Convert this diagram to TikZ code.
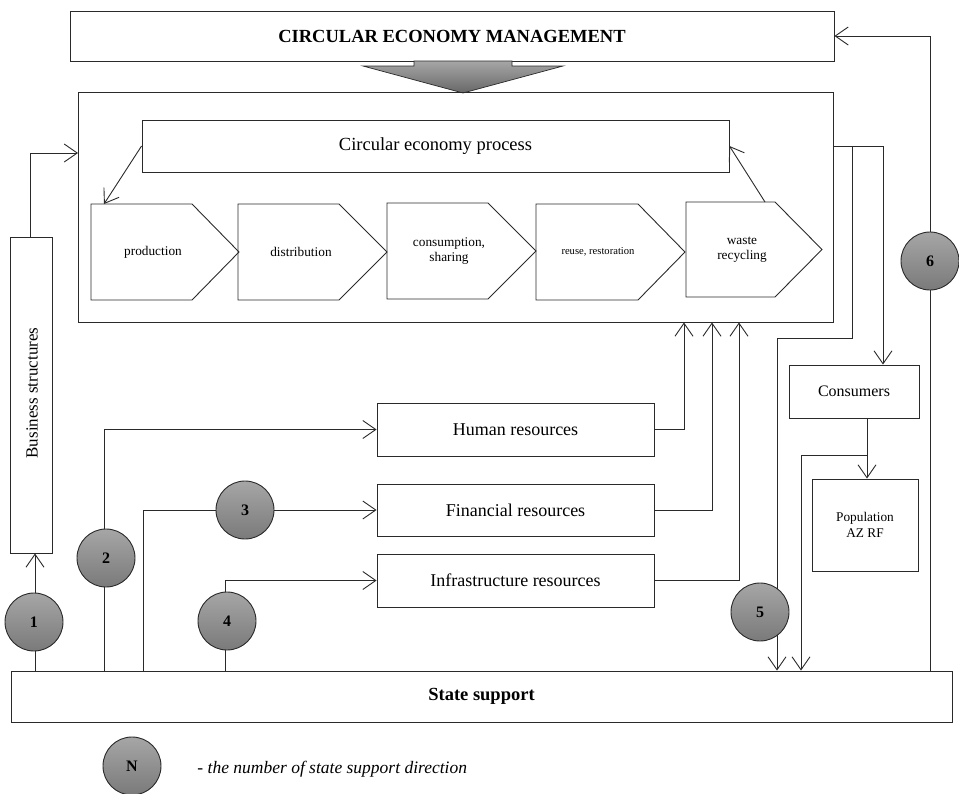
\documentclass[tikz,border=0pt]{standalone}
\usepackage{fontspec}
\setmainfont{Liberation Serif}
\usetikzlibrary{arrows.meta}
\definecolor{ctop}{HTML}{A6A6A6}
\definecolor{cbot}{HTML}{7A7A7A}
\definecolor{ln}{HTML}{2A2A2A}
\begin{document}
\begin{tikzpicture}[x=1pt,y=-1pt,line width=0.9pt,draw=ln,
  box/.style={draw=ln,line width=0.9pt,inner sep=0pt,align=center},
  pent/.style={draw=ln,line width=0.9pt},
  barb/.style={-{Straight Barb[length=13pt,width=18pt,line width=0.9pt]}},
  plain/.style={draw=ln,line width=0.9pt},
  num/.style={circle,draw=ln,line width=0.9pt,top color=ctop,bottom color=cbot,
    minimum size=58pt,inner sep=0pt,font=\fontsize{16}{16}\selectfont\bfseries},
  txt/.style={inner sep=0pt,align=center}]
\useasboundingbox (0,0) rectangle (959,793);
% top box
\node[box,minimum width=764pt,minimum height=50pt,font=\fontsize{18.5}{20}\selectfont\bfseries] (mgmt) at (452,36) {CIRCULAR ECONOMY MANAGEMENT};
% gray arrow
\draw[line width=0.7pt,draw=ln,top color=ctop,bottom color=cbot!85!black] (414,61) -- (414,66) -- (363,66) -- (463,93) -- (563,66) -- (512,66) -- (512,61) -- cycle;
% big box
\node[box,minimum width=755pt,minimum height=230pt] (bigbox) at (455.5,207) {};
% process box
\node[box,minimum width=587pt,minimum height=52pt,font=\fontsize{18.5}{20}\selectfont] (proc) at (435.5,146) {Circular economy process};
% pentagons
\draw[pent] (91,204) -- (192,204) -- (239,252) -- (192,300) -- (91,300) -- cycle;
\draw[pent] (238,204) -- (339,204) -- (387,252) -- (339,300) -- (238,300) -- cycle;
\draw[pent] (387,203) -- (488,203) -- (536,251) -- (488,299) -- (387,299) -- cycle;
\draw[pent] (536,204) -- (638,204) -- (685,252) -- (638,300) -- (536,300) -- cycle;
\draw[pent] (686,202) -- (775,202) -- (822,249.5) -- (775,297) -- (686,297) -- cycle;
\node[txt,font=\fontsize{13.3}{15}\selectfont] (tprod) at (153,252) {production};
\node[txt,font=\fontsize{13.3}{15}\selectfont] (tdist) at (301,252) {distribution};
\node[txt,font=\fontsize{13.3}{15}\selectfont] (tcons) at (449,251) {consumption,\\sharing};
\node[txt,font=\fontsize{10.6}{12}\selectfont] (treuse) at (598,252) {reuse, restoration};
\node[txt,font=\fontsize{13.3}{15}\selectfont] (twaste) at (742,250) {waste\\recycling};
\coordinate (prodtop) at (104,204);
\coordinate (wastetop) at (765,202);
\draw[barb] (proc.west) -- (prodtop);
\draw[barb] (wastetop) -- (proc.east);
% business structures
\node[box,minimum width=42pt,minimum height=316pt] (bus) at (31,395) {};
\node[txt,rotate=90,font=\fontsize{17}{19}\selectfont] (tbus) at (32,393) {Business structures};
% resource boxes
\node[box,minimum width=277pt,minimum height=53pt,font=\fontsize{18}{20}\selectfont] (human) at (515.5,429.5) {Human resources};
\node[box,minimum width=277pt,minimum height=52pt,font=\fontsize{18}{20}\selectfont] (fin) at (515.5,510) {Financial resources};
\node[box,minimum width=277pt,minimum height=53pt,font=\fontsize{18}{20}\selectfont] (infra) at (515.5,580.5) {Infrastructure resources};
% consumers & population
\node[box,minimum width=130pt,minimum height=53pt,font=\fontsize{16}{18}\selectfont] (cons) at (854,391.5) {Consumers};
\node[box,minimum width=106pt,minimum height=92pt,font=\fontsize{13.3}{15.5}\selectfont] (pop) at (865,525) {Population\\AZ RF};
% state support
\node[box,minimum width=941pt,minimum height=51pt,font=\fontsize{18.5}{20}\selectfont\bfseries] (state) at (481.5,696.5) {State support};
% helper x coordinates
\coordinate (x1) at (35,0);
\coordinate (x2) at (104,0);
\coordinate (x3) at (143,0);
\coordinate (x4) at (225,0);
\coordinate (xh) at (684,0);
\coordinate (xf) at (712,0);
\coordinate (xi) at (739,0);
\coordinate (xa) at (852,0);
\coordinate (xc) at (883,0);
\coordinate (x5) at (777,0);
\coordinate (xp) at (867,0);
\coordinate (x5b) at (801,0);
\coordinate (x6) at (930,0);
\coordinate (bend5) at (777,338);
\coordinate (bend5b) at (867,455);
\coordinate (busarr) at (78,153);
% connectors
\draw[barb] (bus.north -| x1) ++(-5,0) |- (busarr);
\draw[barb] (x1 |- state.north) -- (x1 |- bus.south);
\draw[barb] (x2 |- state.north) |- (human.west);
\draw[barb] (x3 |- state.north) |- (fin.west);
\draw[barb] (x4 |- state.north) |- (infra.west);
\draw[barb] (human.east) -| (xh |- bigbox.south);
\draw[barb] (fin.east) -| (xf |- bigbox.south);
\draw[barb] (infra.east) -| (xi |- bigbox.south);
\draw[barb] (bigbox.east |- proc.east) -| (xc |- cons.north);
\draw[barb] (xa |- proc.east) |- (bend5) -- (x5 |- state.north);
\draw[barb] (xp |- cons.south) -- (xp |- pop.north);
\draw[barb] (bend5b) -| (x5b |- state.north);
\draw[barb] (x6 |- state.north) |- (mgmt.east);
% numbered circles
\node[num] (c1) at (34,622) {1};
\node[num] (c2) at (106,558) {2};
\node[num] (c3) at (245,510) {3};
\node[num] (c4) at (227,621) {4};
\node[num] (c5) at (760,612) {5};
\node[num] (c6) at (930,261) {6};
% legend
\node[num] (cN) at (132,766) {N};
\node[txt,anchor=west,font=\fontsize{17.5}{19}\selectfont\itshape] (legend) at (197,769) {- the number of state support direction};
\end{tikzpicture}
\end{document}
